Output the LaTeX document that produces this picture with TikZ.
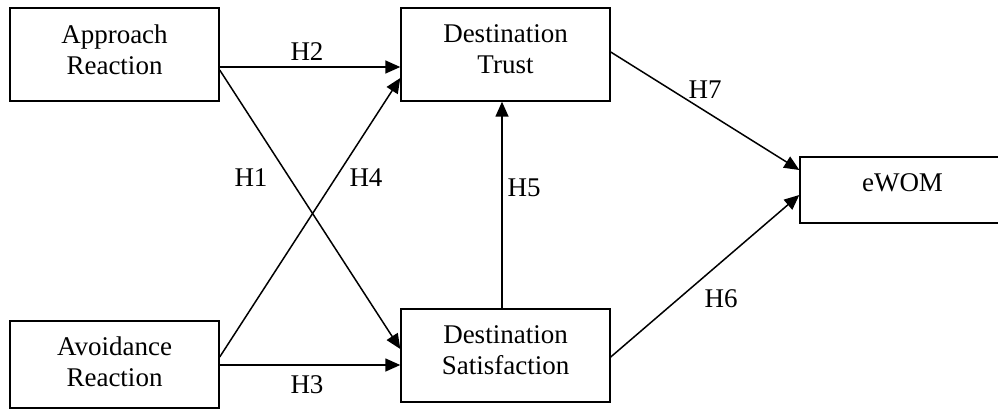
\documentclass[tikz,border=0pt]{standalone}
\usepackage{fontspec}
\setmainfont{Liberation Serif}
\usetikzlibrary{arrows.meta}
\begin{document}
\begin{tikzpicture}[x=1pt,y=-1pt,
  box/.style={draw, line width=1.4pt, minimum width=209pt, minimum height=93pt, align=center, inner sep=0pt, font=\fontsize{27}{31}\selectfont},
  arr/.style={-{Triangle[length=15pt,width=13pt]}, line width=1.5pt},
  lab/.style={font=\fontsize{27}{31}\selectfont, inner sep=0pt}]
\useasboundingbox (0,0) rectangle (998,410);
\node[box] (app) at (114.5,54.5) {Approach\\Reaction\\[-21pt]\mbox{}};
\node[box, minimum height=87pt] (avo) at (114.5,364.5) {Avoidance\\Reaction\\[-25pt]\mbox{}};
\node[box] (tru) at (505.5,54.5) {Destination\\Trust\\[-21pt]\mbox{}};
\node[box] (sat) at (505.5,355.5) {Destination\\Satisfaction\\[-21pt]\mbox{}};
\node[box, minimum width=205pt, minimum height=66pt] (ewom) at (902.5,190) {eWOM\\[-17pt]\mbox{}};
\draw[arr] ([yshift=-12.5pt]app.east) -- ([yshift=-12.5pt]tru.west);
\draw[arr] ([yshift=-15.5pt]app.east) -- ([yshift=6.5pt]sat.west);
\draw[arr] ([yshift=7.5pt]avo.east) -- ([yshift=-23.5pt]tru.west);
\draw[arr] ([yshift=-0.5pt]avo.east) -- ([yshift=-9.5pt]sat.west);
\draw[arr] ([xshift=-3.5pt]sat.north) -- ([xshift=-3.5pt]tru.south);
\draw[arr] ([yshift=2.5pt]tru.east) -- ([yshift=20pt]ewom.west);
\draw[arr] ([yshift=-1.5pt]sat.east) -- ([yshift=-5pt]ewom.west);
\node[lab] (h1) at (251,178) {H1};
\node[lab] (h2) at (307,52) {H2};
\node[lab] (h3) at (307,385) {H3};
\node[lab] (h4) at (366,178) {H4};
\node[lab] (h5) at (524,188) {H5};
\node[lab] (h6) at (721,299) {H6};
\node[lab] (h7) at (705,90) {H7};
\end{tikzpicture}
\end{document}
